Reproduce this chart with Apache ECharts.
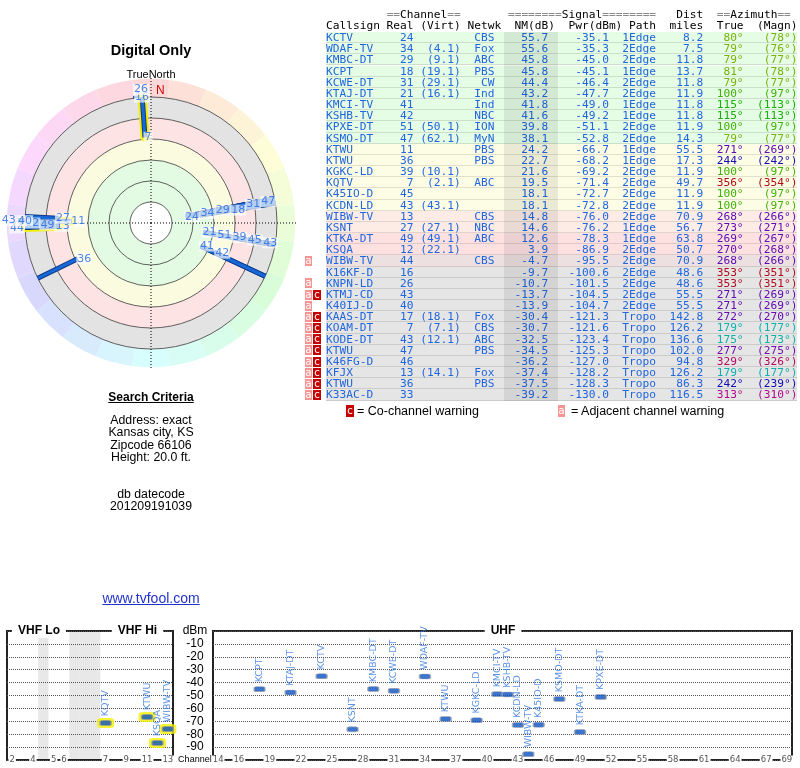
<!DOCTYPE html>
<html lang="en">
<head>
<meta charset="UTF-8">
<title>Digital Only - signal analysis</title>
<script src="https://cdn.jsdelivr.net/npm/echarts@6/dist/echarts.min.js"></script>
<style>
  * { margin: 0; padding: 0; }
  body { width: 800px; height: 768px; position: relative; background: #fff; overflow: hidden;
         font-family: "Liberation Sans", Arial, sans-serif; }
  #chart { position: absolute; left: 0; top: 0; width: 800px; height: 768px; }
  .txt { position: absolute; left: 51px; width: 200px; text-align: center; color: #000; white-space: nowrap; }
  #tbl { position: absolute; left: 326px; top: 0; width: 471px; height: 420px;
         font-family: "DejaVu Sans Mono", monospace; font-size: 11.2px; white-space: pre; }
  .hdr { position: absolute; left: 0; height: 11px; line-height: 11px; color: #000; }
  .eq { color: #8a8a8a; }
  .row { position: absolute; left: 0; width: 471px; height: 11.17px; line-height: 11.17px; color: #2266dd;
         box-shadow: inset 0 -1px 0 rgba(0,0,0,0.11); }
  #nmcol { position: absolute; left: 178px; width: 54px; top: 32px; background: rgba(0,0,0,0.075); }
  .wa, .wc { position: absolute; height: 10px; line-height: 9px; color: #fff; text-align: center;
             font-family: "DejaVu Sans Mono", monospace; font-size: 10.5px; }
  .wa { width: 7px; background: #f79595; }
  .wc { width: 8px; background: #c40000; }
  .legend { position: absolute; top: 404px; font-size: 12.5px; line-height: 14px; color: #000; white-space: nowrap; }
</style>
</head>
<body>
<div id="chart"></div>

<div class="txt" style="top:41px;font-size:14.5px;line-height:18px;font-weight:bold;">Digital Only</div>
<div class="txt" style="top:68px;font-size:11px;line-height:13px;">TrueNorth</div>
<div style="position:absolute;left:156px;top:83px;font-size:12px;line-height:14px;color:#d40000;">N</div>
<div class="txt" style="top:390px;font-size:12px;line-height:14px;font-weight:bold;text-decoration:underline;">Search Criteria</div>
<div class="txt" style="top:414px;font-size:12.3px;line-height:12.3px;">Address: exact<br>Kansas city, KS<br>Zipcode 66106<br>Height: 20.0 ft.</div>
<div class="txt" style="top:488px;font-size:12.3px;line-height:12.3px;">db datecode<br>201209191039</div>
<div class="txt" style="top:590px;font-size:14px;line-height:16px;color:#2233cc;text-decoration:underline;">www.tvfool.com</div>

<div id="tbl"></div>
<div id="warn"></div>
<div class="wc" style="left:346px;top:405px;height:12px;line-height:11px;">c</div>
<div class="legend" style="left:357px;">= Co-channel warning</div>
<div class="wa" style="left:558px;top:405px;height:12px;line-height:11px;">a</div>
<div class="legend" style="left:571px;">= Adjacent channel warning</div>

<script>
// station list, in table order
var callsigns = ['KCTV','WDAF-TV','KMBC-DT','KCPT','KCWE-DT','KTAJ-DT','KMCI-TV','KSHB-TV','KPXE-DT','KSMO-DT',
  'KTWU','KTWU','KGKC-LD','KQTV','K45IO-D','KCDN-LD','WIBW-TV','KSNT','KTKA-DT','KSQA','WIBW-TV',
  'K16KF-D','KNPN-LD','KTMJ-CD','K40IJ-D','KAAS-DT','KOAM-DT','KODE-DT','KTWU','K46FG-D','KFJX','KTWU','K33AC-D'];
var realCh = [24,34,29,18,31,21,41,42,51,47, 11,36,39,7,45,43,13,27,49,12,44, 16,26,43,40,17,7,43,47,46,13,36,33];
var virtCh = ['','4.1','9.1','19.1','29.1','16.1','','','50.1','62.1', '','','10.1','2.1','','43.1','','27.1','49.1','22.1','',
  '','','','','18.1','7.1','12.1','','','14.1','',''];
var netwk = ['CBS','Fox','ABC','PBS','CW','Ind','Ind','NBC','ION','MyN', 'PBS','PBS','','ABC','','','CBS','NBC','ABC','','CBS',
  '','','','','Fox','CBS','ABC','PBS','','Fox','PBS',''];
var nmDb = [55.7,55.6,45.8,45.8,44.4,43.2,41.8,41.6,39.8,38.1, 24.2,22.7,21.6,19.5,18.1,18.1,14.8,14.6,12.6,3.9,-4.7,
  -9.7,-10.7,-13.7,-13.9,-30.4,-30.7,-32.5,-34.5,-36.2,-37.4,-37.5,-39.2];
var pwrDbm = [-35.1,-35.3,-45.0,-45.1,-46.4,-47.7,-49.0,-49.2,-51.1,-52.8, -66.7,-68.2,-69.2,-71.4,-72.7,-72.8,-76.0,-76.2,-78.3,-86.9,-95.5,
  -100.6,-101.5,-104.5,-104.7,-121.3,-121.6,-123.4,-125.3,-127.0,-128.2,-128.3,-130.0];
var paths = ['1Edge','2Edge','2Edge','1Edge','2Edge','2Edge','1Edge','1Edge','2Edge','2Edge', '1Edge','1Edge','2Edge','2Edge','2Edge','2Edge','2Edge','1Edge','1Edge','2Edge','2Edge',
  '2Edge','2Edge','2Edge','2Edge','Tropo','Tropo','Tropo','Tropo','Tropo','Tropo','Tropo','Tropo'];
var distMi = [8.2,7.5,11.8,13.7,11.8,11.9,11.8,11.8,11.9,14.3, 55.5,17.3,11.9,49.7,11.9,11.9,70.9,56.7,63.8,50.7,70.9,
  48.6,48.6,55.5,55.5,142.8,126.2,136.6,102.0,94.8,126.2,86.3,116.5];
var azTrue = [80,79,79,81,79,100,115,115,100,79, 271,244,100,356,100,100,268,273,269,270,268, 353,353,271,271,272,179,175,277,329,179,242,313];
var azMagn = [78,76,77,78,77,97,113,113,97,77, 269,242,97,354,97,97,266,271,267,268,266, 351,351,269,269,270,177,173,275,326,177,239,310];
var warnings = ['','','','','','','','','','', '','','','','','','','','','','a', '','a','ac','a','ac','ac','ac','ac','ac','ac','ac','ac'];

// polar scale (Pwr dBm) and zone edges
var ringEdges = [-10, -25, -40, -55, -70, -85, -100];
var zoneEdges = [-10, -25, -55, -70, -85, -100, -113];

// spectrum axes
var vhfSlots = ['2','3','4','-','5','6','-','-','-','7','8','9','10','11','12','13'];
var vhfTicks = ['2','4','5','6','7','9','11','13'];
var uhfSlots = [];
for (var c = 14; c <= 69; c++) uhfSlots.push(String(c));
var uhfTicks = ['14','16','19','22','25','28','31','34','37','40','43','46','49','52','55','58','61','64','67','69'];

// ---------- table ----------
function azColor(a) { return 'hsl(' + a + ',88%,37%)'; }
function rowBg(p) {
  if (p >= -55) return '#e5fce5';
  if (p >= -75) return '#fdfde5';
  if (p >= -77) return '#fdece6';
  if (p >= -90) return '#fde1e1';
  if (p >= -98) return '#ede0e0';
  return '#e5e5e5';
}
var ROW_TOP = 32, ROW_H = 11.17;
var tbl = document.getElementById('tbl');
var html = '<div class="hdr" style="top:9px">' + '         ' +
  '<span class="eq">==</span>Channel<span class="eq">==</span>' + '       ' +
  '<span class="eq">========</span>Signal<span class="eq">========</span>' + '   Dist  ' +
  '<span class="eq">==</span>Azimuth<span class="eq">==</span></div>';
html += '<div class="hdr" style="top:20px">Callsign Real (Virt) Netwk  NM(dB)  Pwr(dBm) Path  miles  True  (Magn)</div>';
var warnHtml = '';
for (var i = 0; i < callsigns.length; i++) {
  var rowTop = ROW_TOP + i * ROW_H;
  var left = callsigns[i].padEnd(9) + String(realCh[i]).padStart(4) + ' ' +
    (virtCh[i] ? '(' + virtCh[i] + ')' : '').padStart(6) + ' ' + netwk[i].padStart(4) +
    nmDb[i].toFixed(1).padStart(8) + pwrDbm[i].toFixed(1).padStart(9) + '  ' + paths[i].padStart(5) +
    distMi[i].toFixed(1).padStart(7);
  var az = (azTrue[i] + '°').padStart(6) + ('(' + azMagn[i] + '°)').padStart(8);
  html += '<div class="row" style="top:' + rowTop + 'px;background:' + rowBg(pwrDbm[i]) + '">' + left +
    '<span style="color:' + azColor(azTrue[i]) + '">' + az + '</span></div>';
  if (warnings[i].indexOf('a') >= 0) warnHtml += '<div class="wa" style="left:305px;top:' + (rowTop + 0.6) + 'px">a</div>';
  if (warnings[i].indexOf('c') >= 0) warnHtml += '<div class="wc" style="left:313px;top:' + (rowTop + 0.6) + 'px">c</div>';
}
// NM column shading sits over the row backgrounds
html += '<div id="nmcol" style="height:' + (callsigns.length * ROW_H) + 'px"></div>';
tbl.innerHTML = html;
document.getElementById('warn').innerHTML = warnHtml;

// ---------- polar ----------
var POLAR_R = 147;
var R_OUT = -115, R_IN = -10;
var PX = POLAR_R / (R_IN - R_OUT);
var polarIdx = [];
for (var i = 0; i < callsigns.length; i++) if (paths[i] !== 'Tropo') polarIdx.push(i);

// label placement: text starts at the spoke end, then slides along the spoke until clear
var steps = [];
for (var d = 0; d <= 60; d += 0.5) { steps.push(d); if (d > 0) steps.push(-d); }
steps.sort(function (a, b) { return (a < 0 ? -1.6 * a : a) - (b < 0 ? -1.6 * b : b); });
var labelPos = {};
var placed = [];
polarIdx.slice().sort(function (a, b) { return pwrDbm[b] - pwrDbm[a]; }).forEach(function (i) {
  var w = 7 * String(realCh[i]).length + 1, h = 7.5;
  var ang = azTrue[i] * Math.PI / 180;
  var ux = Math.sin(ang), uy = -Math.cos(ang);
  var r0 = (R_IN - pwrDbm[i]) * PX;
  var bx = r0 * ux + w / 2 - 1, by = r0 * uy;
  var best = [bx, by];
  for (var k = 0; k < steps.length; k++) {
    var x = bx + steps[k] * ux, y = by + steps[k] * uy;
    var rr = Math.hypot(x, y);
    if (rr < 10 || rr > 150) continue;
    var ok = placed.every(function (q) {
      return Math.abs(q.x - x) >= (q.w + w) / 2 || Math.abs(q.y - y) >= (q.h + h) / 2;
    });
    if (ok) { best = [x, y]; break; }
  }
  placed.push({ x: best[0], y: best[1], w: w, h: h });
  var deg = Math.atan2(best[0], -best[1]) * 180 / Math.PI;
  labelPos[i] = [R_IN - Math.hypot(best[0], best[1]) / PX, (deg + 360) % 360];
});

var zoneColors = ['#ffffff', '#e3fbe3', '#fbfbdf', '#fde3e3', '#e3e3e3'];

function renderPolarBg(params, api) {
  var c = api.coord([R_IN, 0]);
  function rad(v) { var p = api.coord([v, 0]); return Math.hypot(p[0] - c[0], p[1] - c[1]); }
  var kids = [];
  // outer colour wheel
  for (var a = 0; a < 360; a += 15) {
    kids.push({ type: 'sector', shape: { cx: c[0], cy: c[1], r0: rad(zoneEdges[5]), r: rad(zoneEdges[6]),
      startAngle: (a - 7.5 - 90) * Math.PI / 180, endAngle: (a + 7.5 - 90) * Math.PI / 180, clockwise: true },
      style: { fill: 'hsl(' + a + ',92%,92%)' } });
  }
  for (var z = 0; z < zoneColors.length; z++) {
    kids.push({ type: 'sector', shape: { cx: c[0], cy: c[1], r0: rad(zoneEdges[z]), r: rad(zoneEdges[z + 1]),
      startAngle: 0, endAngle: Math.PI * 2 }, style: { fill: zoneColors[z] } });
  }
  ringEdges.slice(1).forEach(function (v) {
    kids.push({ type: 'circle', shape: { cx: c[0], cy: c[1], r: rad(v) },
      style: { fill: null, stroke: '#3a3a3a', lineWidth: 0.8 } });
  });
  [0, 90, 180, 270].forEach(function (a) {
    var e = api.coord([-114, a]);
    kids.push({ type: 'line', shape: { x1: c[0], y1: c[1], x2: e[0], y2: e[1] },
      style: { stroke: '#000', lineWidth: 1, lineDash: [1, 2] } });
  });
  return { type: 'group', children: kids };
}

function spoke(width, color, cap) {
  return function (params, api) {
    var p = api.value(0), a = api.value(1);
    var s = api.coord([-100, a]), e = api.coord([p, a]);
    return { type: 'line', shape: { x1: s[0], y1: s[1], x2: e[0], y2: e[1] },
      style: { stroke: color, lineWidth: width, lineCap: cap || 'butt' } };
  };
}

var spokeData = polarIdx.map(function (i) { return [pwrDbm[i], azTrue[i]]; });
var vhfSpokeData = polarIdx.filter(function (i) { return realCh[i] <= 13; })
  .map(function (i) { return [pwrDbm[i], azTrue[i]]; });
var labelData = polarIdx.map(function (i) { return { value: labelPos[i], name: String(realCh[i]) }; });

// ---------- spectrum ----------
var vhfIdx = [], uhfIdx = [];
for (var i = 0; i < callsigns.length; i++) {
  if (pwrDbm[i] <= -100) continue;
  if (realCh[i] <= 13) vhfIdx.push(i); else uhfIdx.push(i);
}
var vhfMarks = vhfIdx.map(function (i) { return { value: [vhfSlots.indexOf(String(realCh[i])), pwrDbm[i]], name: callsigns[i] }; });
var uhfMarks = uhfIdx.map(function (i) { return { value: [realCh[i] - 14, pwrDbm[i]], name: callsigns[i] }; });
var vhfGaps = vhfSlots.map(function (s) { return s === '-' ? -100 : '-'; });

var markLabel = { show: true, formatter: '{b}', position: 'top', distance: 4, rotate: 90, align: 'left',
  verticalAlign: 'middle', color: '#3276dd', fontSize: 9.5, fontFamily: 'DejaVu Sans' };
function chAxis(grid, cats, ticks, name) {
  return { gridIndex: grid, type: 'category', position: 'bottom', data: cats, boundaryGap: true, z: 3,
    axisLine: { show: false, onZero: false }, axisTick: { show: false }, splitLine: { show: false },
    axisLabel: { interval: function (idx, v) { return ticks.indexOf(v) >= 0; }, margin: 0, verticalAlign: 'middle',
      fontSize: 8.5, color: '#555', backgroundColor: '#fff', padding: [0, 1], fontFamily: 'DejaVu Sans' },
    name: name, nameLocation: 'end', nameGap: 3,
    nameTextStyle: { fontSize: 9, color: '#000', verticalAlign: 'middle', fontFamily: 'Liberation Sans' } };
}
function dbAxis(grid, labels) {
  return { gridIndex: grid, type: 'value', min: -100, max: 0, interval: 10, position: 'right', z: 3,
    axisLine: { show: false }, axisTick: { show: false },
    splitLine: { show: true, lineStyle: { type: 'dotted', color: '#555', width: 1 } },
    axisLabel: { show: labels, formatter: function (v) { return (v > -100 && v < 0) ? String(v) : ''; },
      margin: 22, align: 'center', fontSize: 12, color: '#000', fontFamily: 'Liberation Sans' },
    name: labels ? 'dBm' : '', nameLocation: 'end', nameGap: 0,
    nameTextStyle: { fontSize: 12, color: '#000', align: 'center', verticalAlign: 'middle', padding: [0, 0, 0, 44],
      fontFamily: 'Liberation Sans' } };
}
function panelTitle(x, text) {
  return { type: 'text', x: x, y: 631, z: 100,
    style: { text: text, font: 'bold 12px "Liberation Sans"', fill: '#000', align: 'center', verticalAlign: 'middle',
      backgroundColor: '#fff', padding: [1, 6] } };
}

var chart = echarts.init(document.getElementById('chart'));
chart.setOption({
  animation: false,
  polar: { center: [151, 223], radius: POLAR_R },
  angleAxis: { type: 'value', min: 0, max: 360, startAngle: 90, clockwise: true,
    axisLine: { show: false }, axisTick: { show: false }, axisLabel: { show: false }, splitLine: { show: false } },
  radiusAxis: { type: 'value', min: R_OUT, max: R_IN, inverse: true,
    axisLine: { show: false }, axisTick: { show: false }, axisLabel: { show: false }, splitLine: { show: false } },
  grid: [
    { left: 7, top: 631, width: 166, height: 129, show: true, borderColor: '#222', borderWidth: 2 },
    { left: 213, top: 631, width: 579, height: 129, show: true, borderColor: '#222', borderWidth: 2 }
  ],
  xAxis: [chAxis(0, vhfSlots, vhfTicks, 'Channel'), chAxis(1, uhfSlots, uhfTicks, '')],
  yAxis: [dbAxis(0, true), dbAxis(1, false)],
  graphic: [panelTitle(39, 'VHF Lo'), panelTitle(137.5, 'VHF Hi'), panelTitle(503, 'UHF')],
  series: [
    { type: 'custom', coordinateSystem: 'polar', renderItem: renderPolarBg, data: [[R_IN, 0]], silent: true, z: 1 },
    { type: 'custom', coordinateSystem: 'polar', renderItem: spoke(9, '#f2ee00', 'round'), data: vhfSpokeData, silent: true, z: 2 },
    { type: 'custom', coordinateSystem: 'polar', renderItem: spoke(5, '#0c3c8c'), data: spokeData, silent: true, z: 3 },
    { type: 'custom', coordinateSystem: 'polar', renderItem: spoke(3, '#1868d8'), data: spokeData, silent: true, z: 4 },
    { type: 'scatter', coordinateSystem: 'polar', symbol: 'circle', symbolSize: 1, silent: true, z: 6,
      itemStyle: { color: 'rgba(0,0,0,0)' }, data: labelData,
      label: { show: true, position: 'inside', formatter: '{b}', color: '#1f66dd', fontSize: 11,
        fontFamily: 'DejaVu Sans', backgroundColor: 'rgba(255,255,255,0.85)', padding: [0, 1] } },

    { type: 'bar', xAxisIndex: 0, yAxisIndex: 0, data: vhfGaps, barWidth: '100%', silent: true,
      itemStyle: { color: 'rgba(0,0,0,0.09)' }, z: 1 },
    { type: 'scatter', xAxisIndex: 0, yAxisIndex: 0, data: vhfMarks, symbol: 'roundRect', symbolSize: [17, 10],
      itemStyle: { color: '#f4f000' }, silent: true, z: 3 },
    { type: 'scatter', xAxisIndex: 0, yAxisIndex: 0, data: vhfMarks, symbol: 'roundRect', symbolSize: [11, 5],
      itemStyle: { color: '#0a50c0', borderColor: '#9a9a9a', borderWidth: 1 }, label: markLabel, silent: true, z: 4 },
    { type: 'scatter', xAxisIndex: 1, yAxisIndex: 1, data: uhfMarks, symbol: 'roundRect', symbolSize: [11, 5],
      itemStyle: { color: '#0a50c0', borderColor: '#a8a8a8', borderWidth: 1 }, label: markLabel, silent: true, z: 4 }
  ]
});
</script>
</body>
</html>
